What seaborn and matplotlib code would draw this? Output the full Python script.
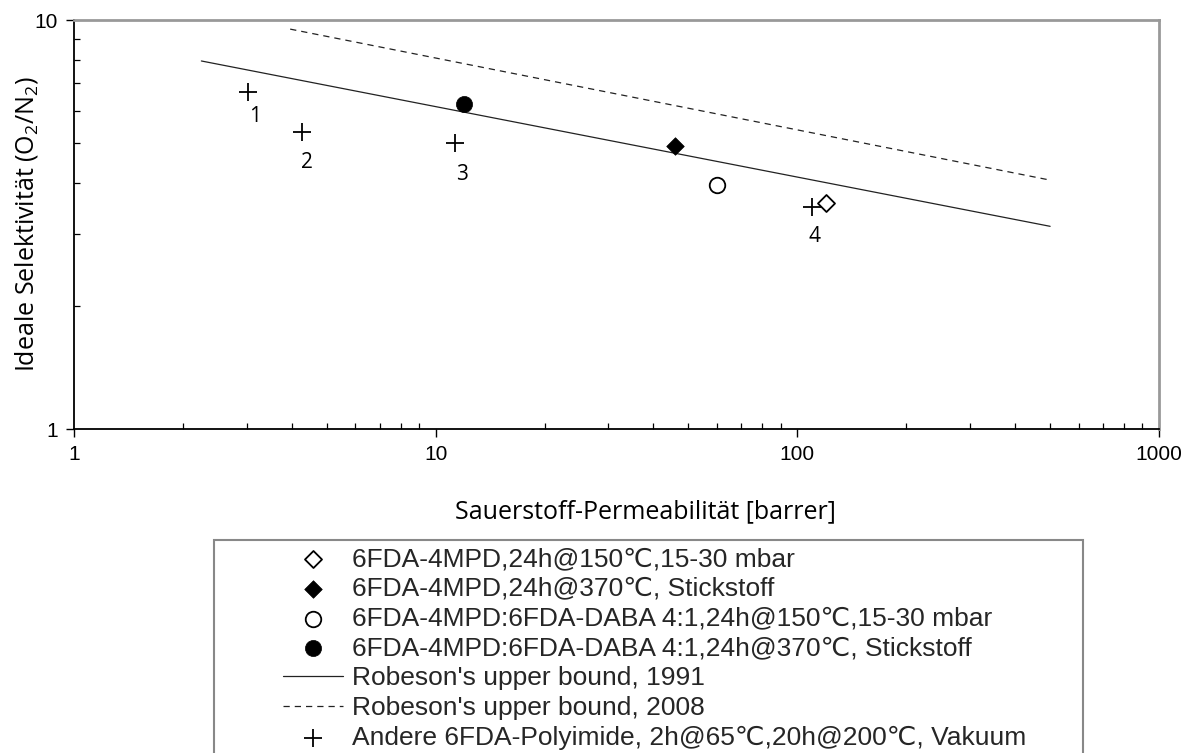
import matplotlib
matplotlib.use("Agg")
import matplotlib.pyplot as plt
import seaborn as sns
from matplotlib.patches import Rectangle
from matplotlib.ticker import LogLocator, NullFormatter

# ---------------- data ----------------
open_diamond_x = [119.7]
open_diamond_y = [3.57]
filled_diamond_x = [45.9]
filled_diamond_y = [4.92]
open_circle_x = [59.8]
open_circle_y = [3.95]
filled_circle_x = [11.97]
filled_circle_y = [6.23]
robeson1991_x = [2.25, 500.0]
robeson1991_y = [7.94, 3.13]
robeson2008_x = [3.96, 500.0]
robeson2008_y = [9.50, 4.06]
other_x = [3.03, 4.27, 11.3, 109.7]
other_y = [6.67, 5.32, 5.00, 3.49]
other_labels = ["1", "2", "3", "4"]

legend_labels = [
    "6FDA-4MPD,24h@150\u2103,15-30 mbar",
    "6FDA-4MPD,24h@370\u2103, Stickstoff",
    "6FDA-4MPD:6FDA-DABA 4:1,24h@150\u2103,15-30 mbar",
    "6FDA-4MPD:6FDA-DABA 4:1,24h@370\u2103, Stickstoff",
    "Robeson's upper bound, 1991",
    "Robeson's upper bound, 2008",
    "Andere 6FDA-Polyimide, 2h@65\u2103,20h@200\u2103, Vakuum",
]
x_ticks = [1, 10, 100, 1000]
x_ticklabels = ["1", "10", "100", "1000"]
y_ticks = [1, 10]
y_ticklabels = ["1", "10"]
x_label = "Sauerstoff-Permeabilit\u00e4t [barrer]"
y_label = "Ideale Selektivit\u00e4t (O$_2$/N$_2$)"

# label offsets (points) for numbered points
label_offsets = [(4.8, -17.8), (3.6, -21.6), (4.8, -22.3), (2.2, -21.4)]

# ---------------- style ----------------
sns.set_theme(style="white")
plt.rcParams["font.family"] = ["Liberation Sans", "DejaVu Sans"]
plt.rcParams["mathtext.fontset"] = "custom"
plt.rcParams["mathtext.rm"] = "Open Sans"
plt.rcParams["mathtext.it"] = "Open Sans"

W, H = 1192, 753
fig = plt.figure(figsize=(W / 100, H / 100), dpi=100)
ax = fig.add_axes([74 / W, 1 - 429 / H, (1159 - 74) / W, (429 - 20) / H])
ax.set_xscale("log")
ax.set_yscale("log")

# lines
sns.lineplot(x=robeson1991_x, y=robeson1991_y, ax=ax, color="#222222", lw=0.9,
             label=legend_labels[4], legend=False)
sns.lineplot(x=robeson2008_x, y=robeson2008_y, ax=ax, color="#222222", lw=0.9,
             linestyle=(0, (5, 4)), label=legend_labels[5], legend=False)

# markers
sns.scatterplot(x=open_diamond_x, y=open_diamond_y, ax=ax, marker="D", s=75,
                facecolor="white", edgecolor="black", linewidth=1.3,
                label=legend_labels[0], legend=False, zorder=5)
sns.scatterplot(x=filled_diamond_x, y=filled_diamond_y, ax=ax, marker="D", s=80,
                color="black", edgecolor="black", linewidth=0.5,
                label=legend_labels[1], legend=False, zorder=5)
sns.scatterplot(x=open_circle_x, y=open_circle_y, ax=ax, marker="o", s=125,
                facecolor="white", edgecolor="black", linewidth=1.3,
                label=legend_labels[2], legend=False, zorder=5)
sns.scatterplot(x=filled_circle_x, y=filled_circle_y, ax=ax, marker="o", s=135,
                color="black", edgecolor="black", linewidth=0.5,
                label=legend_labels[3], legend=False, zorder=5)
sns.scatterplot(x=other_x, y=other_y, ax=ax, marker="+", s=170,
                color="black", linewidth=1.3,
                label=legend_labels[6], legend=False, zorder=5)

for xi, yi, lab, off in zip(other_x, other_y, other_labels, label_offsets):
    ax.annotate(lab, (xi, yi), xytext=off, textcoords="offset points",
                ha="center", va="center", fontsize=15, family="Open Sans",
                color="black")

ax.set_xlim(1, 1000)
ax.set_ylim(1, 10)

ax.set_xticks(x_ticks)
ax.set_xticklabels(x_ticklabels, fontsize=15, color="black",
                   family=["Liberation Sans", "DejaVu Sans"])
ax.set_yticks(y_ticks)
ax.set_yticklabels(y_ticklabels, fontsize=15, color="black",
                   family=["Liberation Sans", "DejaVu Sans"])
ax.xaxis.set_minor_locator(LogLocator(base=10, subs=range(2, 10)))
ax.yaxis.set_minor_locator(LogLocator(base=10, subs=range(2, 10)))
ax.xaxis.set_minor_formatter(NullFormatter())
ax.yaxis.set_minor_formatter(NullFormatter())
ax.set_xlim(1, 1000)
ax.set_ylim(1, 10)

ax.tick_params(axis="both", which="major", direction="out", length=5.5, width=1.0,
               color="black", bottom=True, left=True, top=False, right=False)
ax.tick_params(axis="x", which="major", pad=6)
ax.tick_params(axis="y", which="major", pad=6)
ax.tick_params(axis="both", which="minor", direction="in", length=4, width=0.9,
               color="black", bottom=True, left=True, top=False, right=False)

for side in ["left", "bottom"]:
    ax.spines[side].set_color("black")
    ax.spines[side].set_linewidth(1.3)
for side in ["top", "right"]:
    ax.spines[side].set_color("#999999")
    ax.spines[side].set_linewidth(2.0)
ax.grid(False)

ax.set_xlabel(x_label, fontsize=18, family="Open Sans", color="black")
ax.xaxis.set_label_coords((645 - 74) / 1085, (429 - 499) / 409)
ax.set_ylabel(y_label, fontsize=18, family="Open Sans", color="black")
ax.yaxis.set_label_coords((40 - 74) / 1085, 0.5)

# legend
handles, labels = ax.get_legend_handles_labels()
hmap = dict(zip(labels, handles))
ordered = [hmap[l] for l in legend_labels]
if ax.get_legend() is not None:
    ax.get_legend().remove()

leg = fig.legend(ordered, legend_labels, loc="upper left",
                 bbox_to_anchor=(283 / W, 1 - 547 / H),
                 frameon=False, borderpad=0, borderaxespad=0,
                 handlelength=2.27, handletextpad=0.36,
                 labelspacing=0.22,
                 prop={"family": ["Liberation Sans", "DejaVu Sans"], "size": 19})

fig.add_artist(Rectangle((214 / W, -0.05), (1083 - 214) / W, 1 - 540 / H + 0.05,
                         transform=fig.transFigure, fill=False,
                         edgecolor="#888888", linewidth=1.5, zorder=0))

fig.savefig("out.png", dpi=100, facecolor="white")
